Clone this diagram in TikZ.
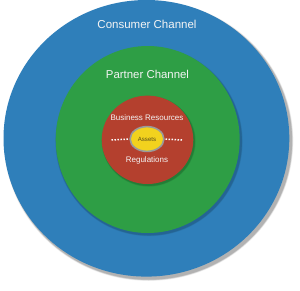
\documentclass[tikz,border=0pt]{standalone}
\usepackage{fontspec}
\setmainfont{Liberation Sans}
\usetikzlibrary{shapes.geometric}
\definecolor{cblue}{HTML}{2F7FBA}
\definecolor{cgreen}{HTML}{2E9E45}
\definecolor{cred}{HTML}{B4402E}
\definecolor{cyellow}{HTML}{F2D21E}
\definecolor{cgray}{HTML}{9A9A9A}
\definecolor{ctext}{HTML}{F4F4F4}
\definecolor{cdark}{HTML}{5A4E1A}
\begin{document}
\begin{tikzpicture}[x=1pt,y=-1pt,
  ring/.style={ellipse,inner sep=0pt,outer sep=0pt},
  lbl/.style={text=ctext,inner sep=0pt,anchor=center},
  dots/.style={draw=white,line width=1.5pt,dash pattern=on 1.5pt off 1.5pt}]
\useasboundingbox (0,0) rectangle (300,290);
\fill[white] (0,0) rectangle (300,290);
% shadow of outer disc
\foreach \d/\o in {4.5/0.05,3.5/0.07,2.5/0.09,1.5/0.12}{
  \fill[black,opacity=\o] (148.6,140.8) ellipse [x radius=142.9+\d*0.4, y radius=138.3+\d*0.4];
}
\node[ring,fill=cblue,minimum width=285.8pt,minimum height=276.6pt] (consumer) at (146.4,138.3) {};
% shadow of green
\foreach \d/\o in {3/0.05,2/0.07,1/0.09}{
  \fill[black,opacity=\o] (149,141.5) ellipse [x radius=92.5+\d*0.4, y radius=93.5+\d*0.4];
}
\node[ring,fill=cgreen,minimum width=184pt,minimum height=187pt] (partner) at (147.7,139.5) {};
% shadow of red
\foreach \d/\o in {3/0.05,2/0.07,1/0.09}{
  \fill[black,opacity=\o] (148.7,141.3) ellipse [x radius=45.8+\d*0.4, y radius=44.2+\d*0.4];
}
\node[ring,fill=cred,minimum width=91.6pt,minimum height=88.4pt] (business) at (147.5,139.8) {};
\node[ring,fill=cyellow,draw=cgray,line width=1.6pt,minimum width=33.8pt,minimum height=24.8pt] (assets) at (147,139) {};
\node[lbl,font=\fontsize{11.5}{13}\selectfont] (tconsumer) at (147,24.5) {Consumer Channel};
\node[lbl,font=\fontsize{11.4}{13}\selectfont] (tpartner) at (147.5,74.5) {Partner Channel};
\node[lbl,font=\fontsize{8}{9}\selectfont] (tbusiness) at (147,118) {Business Resources};
\node[lbl,font=\fontsize{8}{9}\selectfont] (tregs) at (147,160.5) {Regulations};
\node[inner sep=0pt,text=cdark,font=\fontsize{6.1}{7}\selectfont] (tassets) at (147,139.3) {Assets};
\coordinate (dl) at (111.5,140);
\coordinate (dr) at (182,140);
\draw[dots,shorten >=1.5pt] (dl) -- (assets.west);
\draw[dots,shorten >=1.5pt] (dr) -- (assets.east);
\end{tikzpicture}
\end{document}
